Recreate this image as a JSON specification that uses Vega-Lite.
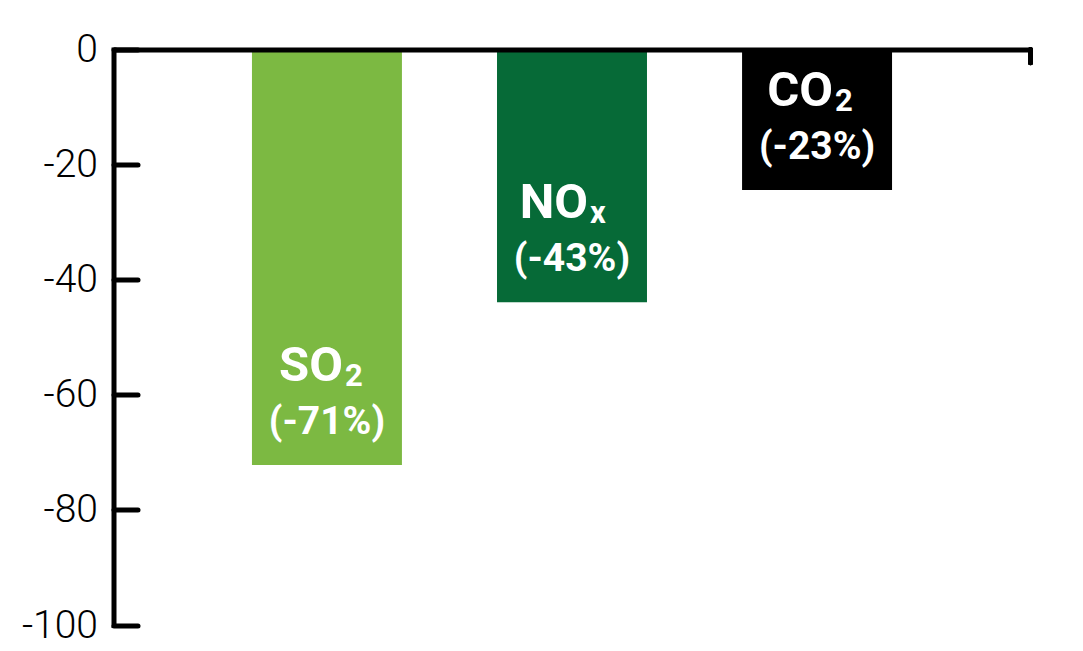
{
  "$schema": "https://vega.github.io/schema/vega-lite/v6.json",
  "width": 917,
  "height": 575.5,
  "autosize": {"type": "none"},
  "padding": {"left": 113.5, "top": 49.5, "right": 52.5, "bottom": 26},
  "background": "white",
  "config": {"view": {"stroke": null}},
  "data": {"values": [
    {"gas": "SO2", "main": "SO", "sub": "2", "pct": "(-71%)", "value": -72.2},
    {"gas": "NOx", "main": "NO", "sub": "x", "pct": "(-43%)", "value": -43.9},
    {"gas": "CO2", "main": "CO", "sub": "2", "pct": "(-23%)", "value": -24.4}
  ]},
  "resolve": {"scale": {"x": "independent"}},
  "layer": [
    {
      "layer": [
        {
          "mark": {"type": "bar"},
          "encoding": {
            "x": {"field": "gas", "type": "nominal", "sort": null,
              "scale": {"paddingInner": 0.388, "paddingOuter": 0.565},
              "axis": {"orient": "top", "title": null, "labels": false, "ticks": false, "domain": true, "domainColor": "black", "domainWidth": 5, "zindex": 1}},
            "y": {"field": "value", "type": "quantitative",
              "scale": {"domain": [-100, 0], "nice": false},
              "axis": {"title": null, "values": [0, -20, -40, -60, -80, -100], "grid": false,
                "labelExpr": "'' + datum.value",
                "domainColor": "black", "domainWidth": 5, "domainCap": "square",
                "tickColor": "black", "tickWidth": 5, "tickSize": -24, "tickCap": "round",
                "labelFont": "Roboto", "labelFontSize": 39, "labelFontWeight": 300, "labelColor": "black",
                "labelPadding": 40, "labelBaseline": "middle", "zindex": 1}},
            "color": {"field": "gas", "type": "nominal", "legend": null,
              "scale": {"domain": ["SO2", "NOx", "CO2"], "range": ["#7cb942", "#066a37", "#000000"]}}
          }
        },
        {
          "mark": {"type": "text", "align": "right", "baseline": "alphabetic", "dx": 16, "dy": -84, "font": "Roboto", "fontWeight": "bold", "fontSize": 49, "color": "white"},
          "encoding": {
            "x": {"field": "gas", "type": "nominal", "sort": null},
            "y": {"field": "value", "type": "quantitative"},
            "text": {"field": "main"}
          }
        },
        {
          "mark": {"type": "text", "align": "left", "baseline": "alphabetic", "dx": 18, "dy": -79, "font": "Roboto", "fontWeight": "bold", "fontSize": 31, "color": "white"},
          "encoding": {
            "x": {"field": "gas", "type": "nominal", "sort": null},
            "y": {"field": "value", "type": "quantitative"},
            "text": {"field": "sub"}
          }
        },
        {
          "mark": {"type": "text", "align": "center", "baseline": "alphabetic", "dy": -31, "font": "Roboto", "fontWeight": "bold", "fontSize": 39, "color": "white"},
          "encoding": {
            "x": {"field": "gas", "type": "nominal", "sort": null},
            "y": {"field": "value", "type": "quantitative"},
            "text": {"field": "pct"}
          }
        }
      ]
    },
    {
      "mark": {"type": "rule", "color": "black", "strokeWidth": 5, "strokeCap": "round"},
      "encoding": {
        "x": {"datum": 1, "type": "quantitative", "scale": {"domain": [0, 1]}, "axis": null},
        "y": {"datum": 0, "type": "quantitative"},
        "y2": {"datum": -2.3}
      }
    }
  ]
}
